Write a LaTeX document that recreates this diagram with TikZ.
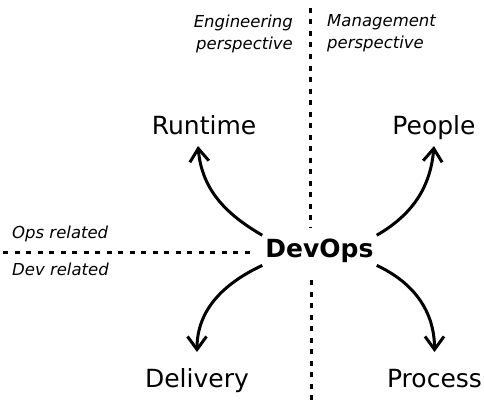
\documentclass[tikz,border=0pt]{standalone}
\usepackage{fontspec}
\setmainfont{DejaVu Sans}
\usetikzlibrary{arrows.meta,positioning}

\begin{document}
\begin{tikzpicture}[x=1pt,y=-1pt,
    big/.style={font=\fontsize{25}{30}\selectfont, anchor=base, inner sep=4pt},
    side/.style={font=\fontsize{16.5}{22}\selectfont\itshape, inner sep=0pt},
    split/.style={line width=3pt, dash pattern=on 5pt off 6.5pt},
    flow/.style={line width=3pt, -{Straight Barb[length=13pt,width=19pt]}}]
      \useasboundingbox (0,0) rectangle (484,404);
      % Centre and corners
      \node[big,font=\fontsize{25}{30}\selectfont\bfseries,inner xsep=3pt,inner ysep=3pt] (devops) at (319.5,257) {DevOps};
      \node[big] (runtime) at (204,134) {Runtime};
      \node[big] (people) at (434,134) {People};
      \node[big] (delivery) at (197,387) {Delivery};
      \node[big] (process) at (434.5,387) {Process};
      % Perspectives
      \node[side,anchor=north east,align=right] (eng) at (293,14.5) {Engineering\\perspective};
      \node[side,anchor=north west,align=left] (mgmt) at (327,14.5) {Management\\perspective};
      \node[side,anchor=base west] (ops) at (12,238) {Ops related};
      \node[side,anchor=base west] (dev) at (12,275) {Dev related};
      % Dividers
      \coordinate (vtop) at (310,8);
      \coordinate (vbot) at (311,400);
      \coordinate (hleft) at (3,252);
      \draw[split,shorten >=8pt] (vtop) -- (vtop |- devops.north);
      \draw[split,shorten >=11pt] (vbot) -- (vbot |- devops.south);
      \draw[split,shorten >=11pt] (hleft) -- (hleft -| devops.west);
      % Arrows
      \draw[flow] (devops.north west) to[out=150,in=-85] ([shift={(-6pt,-12pt)}]runtime.base);
      \draw[flow] (devops.north east) to[out=30,in=-95] ([yshift=-12pt]people.base);
      \draw[flow] (devops.south west) to[out=-155,in=90] ([yshift=35pt]delivery.base);
      \draw[flow] (devops.south east) to[out=-25,in=90] ([yshift=35pt]process.base);
\end{tikzpicture}
\end{document}
